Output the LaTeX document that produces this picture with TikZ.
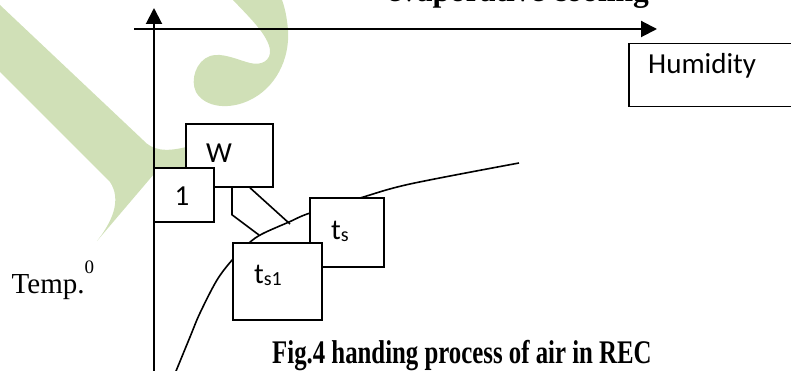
\documentclass[tikz,border=0pt]{standalone}
\usepackage{fontspec}
\setmainfont{Liberation Serif}
\newfontfamily\calfont{Carlito}
\usetikzlibrary{arrows.meta}
\definecolor{wmgreen}{RGB}{208,224,183}
\begin{document}
\begin{tikzpicture}[x=1pt,y=-1pt,
  axis/.style={line width=2pt, -{Triangle[length=16pt,width=16pt]}},
  box/.style={draw, line width=1.5pt, fill=white, inner sep=0pt},
  boxtxt/.style={font=\calfont\fontsize{29}{30}\selectfont, inner sep=0pt},
  conn/.style={line width=1.6pt},
]
\useasboundingbox (0,0) rectangle (791,371);
% watermark
\fill[wmgreen] (0,5) -- (143,140) .. controls (152,150) and (165,153) .. (190,146)
  -- (190,172) -- (154,174) -- (97,241) .. controls (112,222) and (122,200) .. (110,182)
  -- (0,72) -- cycle;
\fill[wmgreen] (233,0) .. controls (250,18) and (268,35) .. (270,50)
  .. controls (271,60) and (262,66) .. (250,63)
  .. controls (238,60) and (222,52) .. (210,56)
  .. controls (196,61) and (190,80) .. (196,92)
  .. controls (205,108) and (230,110) .. (250,100)
  .. controls (275,88) and (290,60) .. (288,30)
  .. controls (287,18) and (285,8) .. (282,0) -- cycle;
% title (cut off at the top edge, as in the reference)
\node[anchor=base west, inner sep=0pt, font=\fontsize{31.5}{33}\selectfont\bfseries] (title) at (387,2) {evaporative cooling};
% axes
\coordinate (yb) at (154,380);
\coordinate (yt) at (154,8);
\coordinate (xl) at (134,29);
\coordinate (xr) at (657,29);
\draw[axis] (yb) -- (yt);
\draw[axis] (xl) -- (xr);
% curve
\draw[conn] plot[smooth, tension=0.55] coordinates {(174,376) (190,337) (200,313) (217,280) (233,259) (249,243) (262,234) (289,222) (310,213) (360,198) (410,184) (519,163)};
% boxes
\node[box, minimum width=87pt, minimum height=63pt] (W) at (229.5,155.5) {};
\node[box, minimum width=60pt, minimum height=54pt] (one) at (184,195) {};
\node[box, minimum width=74pt, minimum height=69pt] (ts) at (347,232.5) {};
\node[box, minimum width=89pt, minimum height=77pt] (ts1) at (277.5,281.5) {};
\node[box, minimum width=180pt, minimum height=63pt, anchor=north west] (hum) at (628,43) {};
% connectors
\coordinate (c1) at (259,235);
\coordinate (c2) at (290,224);
\draw[conn] ([xshift=46.7pt]W.south west) -- ++(0,27) -- (c1);
\draw[conn] ([xshift=64.7pt]W.south west) -- (c2);
% texts
\node[boxtxt, anchor=base] (Wt) at (219,163) {W};
\node[boxtxt, anchor=base] (onet) at (182,205) {1};
\node[boxtxt, anchor=base west] (tst) at (331,239) {t\raisebox{-2pt}{\fontsize{20}{20}\selectfont s}};
\node[boxtxt, anchor=base west] (ts1t) at (254,283) {t\raisebox{-2pt}{\fontsize{20}{20}\selectfont s1}};
\node[boxtxt, anchor=base west] (humt) at (648,74) {Humidity};
\node[anchor=base west, inner sep=0pt, font=\fontsize{29}{30}\selectfont] (temp) at (11.5,293) {Temp.\raisebox{20pt}{\fontsize{19}{19}\selectfont 0}};
\node[anchor=base west, inner sep=0pt] (cap) at (272,363) {\scalebox{0.752}[1]{\fontsize{33}{35}\selectfont\bfseries Fig.4 handing process of air in REC}};
\end{tikzpicture}
\end{document}
